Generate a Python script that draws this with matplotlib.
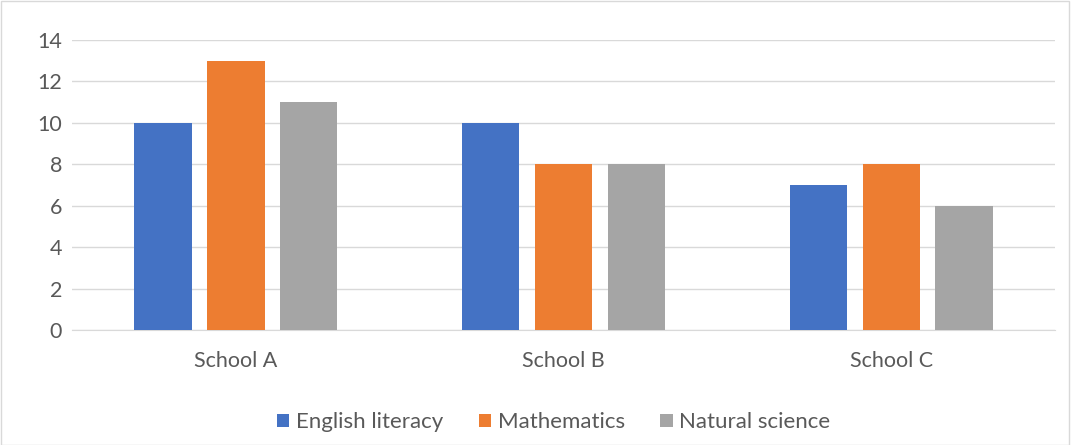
import matplotlib.pyplot as plt
import numpy as np

# schools and scores
schools = ['School A', 'School B', 'School C']
english = [10, 10, 7]
maths = [13, 8, 8]
science = [11, 8, 6]

series_names = ['English literacy', 'Mathematics', 'Natural science']
colors = ['#4472C4', '#ED7D31', '#A5A5A5']

plt.rcParams['font.family'] = ['Lato', 'DejaVu Sans']

fig = plt.figure(figsize=(10.71, 4.45), dpi=100)
ax = fig.add_axes([0.0672, 0.258, 0.918, 0.652])

x = np.arange(len(schools))
w = 0.175
step = 0.222
for i, (vals, name, c) in enumerate(zip([english, maths, science], series_names, colors)):
    ax.bar(x + (i - 1) * step, vals, w, color=c, label=name, zorder=3)

ax.set_xlim(-0.5, 2.5)
ax.set_ylim(0, 14)
ax.set_yticks(range(0, 15, 2))
ax.set_xticks(x)
ax.set_xticklabels(schools)
ax.grid(axis='y', color='#D9D9D9', linewidth=1, zorder=0)
for s in ['top', 'right', 'left']:
    ax.spines[s].set_visible(False)
ax.spines['bottom'].set_color('#D9D9D9')
ax.tick_params(axis='both', length=0, labelsize=15.5, labelcolor='#595959')
ax.tick_params(axis='x', pad=15)
ax.tick_params(axis='y', pad=7)

fig.legend(loc='lower center', bbox_to_anchor=(0.517, -0.016), ncol=3, frameon=False,
           fontsize=16, labelcolor='#595959', handlelength=0.55, handleheight=0.55,
           columnspacing=1.6, handletextpad=0.3)

# chart border
fig.patches.append(plt.Rectangle((0.001, 0.001), 0.997, 0.997, transform=fig.transFigure,
                                 fill=False, edgecolor='#D9D9D9', linewidth=1))

plt.savefig('out.png', dpi=100)
